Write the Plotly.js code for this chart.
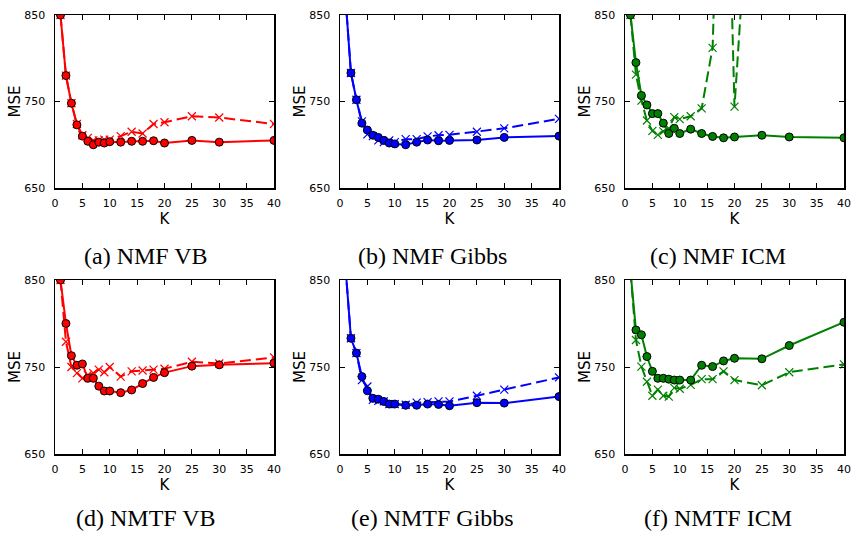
<!DOCTYPE html>
<html>
<head>
<meta charset="utf-8">
<script src="https://cdn.plot.ly/plotly-3.0.1.min.js"></script>
<style>html,body{margin:0;padding:0;background:#fff;}#chart{width:852px;height:535px;}</style>
</head>
<body>
<div id="chart"></div>
<script>
// K values (number of factors)
const K = [1,2,3,4,5,6,7,8,9,10,12,14,16,18,20,25,30,40];

// (a) NMF VB
const nmfVbSolid  = [850,780,748,723,710,704,700,703,702,703.5,703,704,704,704.6,702,705,703,705];
const nmfVbDashed = [850,780,748,724,711,708,705,705,706,706,710,715,713,724,726,733,731.5,724];
// (b) NMF Gibbs
const nmfGibbsSolid  = [870,783,752,725,717,711,708.5,705,702,701,700,703,705.5,704.6,705,705.5,708.5,710];
const nmfGibbsDashed = [870,783,752,727,712,710,705,703,705,703,706.5,706.5,709.6,711,711.5,715,719,730];
// (c) NMF ICM
const nmfIcmSolid  = [850,795,757,746,736,736,725,713,719,713,718,713,709.6,708,709,711,709,708];
const nmfIcmDashed = [850,781,751,728,716,711.5,715.5,719,732,729.6,733,742,812,1225,744,1230,1250,1300];
// (d) NMTF VB
const nmtfVbSolid  = [850,800,763,752,753.5,737,737,728,722.4,722.4,720.5,723.6,731,738,743.5,751,752.5,754.4];
const nmtfVbDashed = [850,779,750,743,737,741,743,747,744,750,739,745,746,747,748,756,754,761];
// (e) NMTF Gibbs
const nmtfGibbsSolid  = [865,783,766,739,722.7,714,713,710.4,707.4,707.4,706,706,707.4,707,705.5,709,708.5,716];
const nmtfGibbsDashed = [865,783,766,735,727.6,712.3,711,710.4,707.4,707.4,706.6,709,709.7,710.4,710.4,717,724,738];
// (f) NMTF ICM
const nmtfIcmSolid  = [860,792.5,787,762,745,737,737,736,735,735,735,752,750.5,757,760,759.4,774.7,801.4];
const nmtfIcmDashed = [860,781,750.5,733,717,724,717,716,726,725,729.5,736,736,745,735,729,744,753];

const captions = ["(a) NMF VB","(b) NMF Gibbs","(c) NMF ICM","(d) NMTF VB","(e) NMTF Gibbs","(f) NMTF ICM"];
const xTicks = [0,5,10,15,20,25,30,35,40];
const yTicks = [650,750,850];

const panels = [
  {solid:nmfVbSolid, dashed:nmfVbDashed, color:'rgb(255,0,0)'},
  {solid:nmfGibbsSolid, dashed:nmfGibbsDashed, color:'rgb(0,0,255)'},
  {solid:nmfIcmSolid, dashed:nmfIcmDashed, color:'rgb(0,128,0)'},
  {solid:nmtfVbSolid, dashed:nmtfVbDashed, color:'rgb(255,0,0)'},
  {solid:nmtfGibbsSolid, dashed:nmtfGibbsDashed, color:'rgb(0,0,255)'},
  {solid:nmtfIcmSolid, dashed:nmtfIcmDashed, color:'rgb(0,128,0)'}
];

const W = 852, H = 535;
const colX = [[55,274],[340,559],[625,844]];
const rowY = [[15,188],[280,454]];

const traces = [];
const layout = {
  width: W, height: H,
  margin: {l:0,r:0,t:0,b:0},
  paper_bgcolor: '#fff', plot_bgcolor: '#fff',
  showlegend: false,
  annotations: []
};

panels.forEach((p, i) => {
  const n = i + 1;
  const xa = n === 1 ? 'x' : 'x' + n;
  const ya = n === 1 ? 'y' : 'y' + n;
  const col = i % 3, row = Math.floor(i / 3);
  traces.push({
    x: K, y: p.dashed, xaxis: xa, yaxis: ya, type: 'scatter', mode: 'lines+markers',
    line: {color: p.color, width: 2, dash: '11px,5px'},
    marker: {symbol: 'x-thin-open', size: 8, color: p.color, line: {color: p.color, width: 1.2}}
  });
  traces.push({
    x: K, y: p.solid, xaxis: xa, yaxis: ya, type: 'scatter', mode: 'lines+markers',
    line: {color: p.color, width: 2},
    marker: {symbol: 'circle', size: 8, color: p.color, line: {color: '#000', width: 1}}
  });
  const axCommon = {
    showgrid: false, zeroline: false, showline: true, linecolor: '#000', linewidth: 1.5,
    mirror: 'ticks', ticks: 'inside', ticklen: 5, tickwidth: 1, tickcolor: '#000',
    tickfont: {family: 'DejaVu Sans', size: 11, color: '#000'}
  };
  layout['xaxis' + (n === 1 ? '' : n)] = Object.assign({}, axCommon, {
    domain: [colX[col][0] / W, colX[col][1] / W], anchor: ya,
    range: [0, 40], tickmode: 'array', tickvals: xTicks, ticktext: xTicks.map(String),
    ticklabelstandoff: 4,
    title: {text: 'K', font: {family: 'DejaVu Sans', size: 15, color: '#000'}, standoff: 3}
  });
  layout['yaxis' + (n === 1 ? '' : n)] = Object.assign({}, axCommon, {
    domain: [1 - rowY[row][1] / H, 1 - rowY[row][0] / H], anchor: xa,
    range: [650, 850], tickmode: 'array', tickvals: yTicks, ticktext: yTicks.map(String),
    ticklabelstandoff: 6,
    title: {text: 'MSE', font: {family: 'DejaVu Sans', size: 15, color: '#000'}, standoff: 0}
  });
  layout.annotations.push({
    text: captions[i], xref: 'paper', yref: 'paper',
    x: (146 + col * 286) / W, y: 1 - (row === 0 ? 256 : 518) / H,
    xanchor: 'center', yanchor: 'middle', showarrow: false,
    font: {family: 'Liberation Serif', size: 24, color: '#000'}
  });
});

Plotly.newPlot('chart', traces, layout, {displayModeBar: false, staticPlot: true});
</script>
</body>
</html>
